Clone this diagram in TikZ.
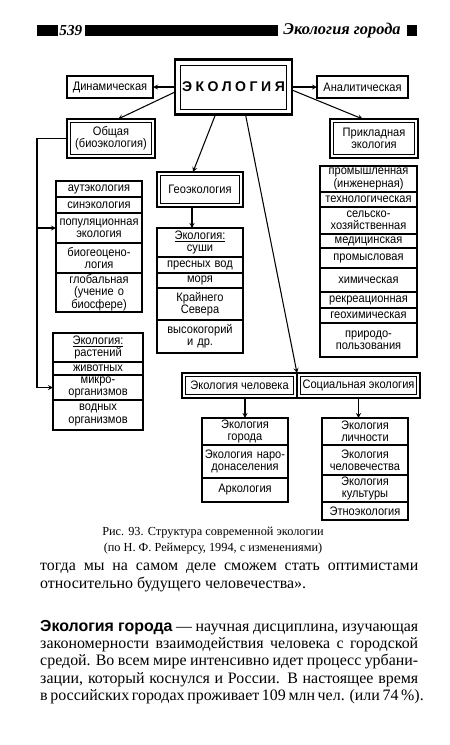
\documentclass[tikz,border=0pt]{standalone}
\usepackage{fontspec}
\setmainfont{Liberation Serif}
\newfontfamily\dsf[FakeStretch=0.9]{Liberation Sans}
\newfontfamily\headsf{Liberation Sans}
\newfontfamily\ecofont[LetterSpace=25]{Liberation Sans}
\usetikzlibrary{positioning}
\newcommand{\boxfont}{\dsf\fontsize{10.5}{10.5}\selectfont}
\newcommand{\bodyfont}{\fontsize{13.6}{15}\selectfont}
\tikzset{
  plainbox/.style={draw, line width=1.3pt, inner sep=1pt, outer sep=0pt, align=center, font=\boxfont},
  thickbox/.style={plainbox, line width=2.2pt},
  lstrow/.style={draw, line width=1pt, inner sep=0pt, outer sep=0pt, align=center, text width=#1, font=\boxfont},
  arr/.style={line width=0.9pt, -stealth},
  bodyline/.style={anchor=west, inner sep=0pt, font=\bodyfont},
}
\begin{document}
\begin{tikzpicture}[x=0.03cm, y=-0.03cm]
\useasboundingbox (0,0) rectangle (450,745);
% header
\fill (37,25) rectangle (58,36);
\node[anchor=west, inner sep=1pt, font=\fontsize{13}{13}\selectfont\bfseries\itshape] (page) at (58,30.5) {539};
\fill (85,25) rectangle (278,36);
\node[anchor=west, inner sep=1pt, font=\fontsize{14}{14}\selectfont\bfseries\itshape] (chapter) at (282,30.5) {Экология города};
\fill (407,25) rectangle (417,36);

% top level
\node[thickbox, minimum width=3.51cm, minimum height=1.65cm, font=\ecofont\bfseries\fontsize{12}{12}\selectfont] (eco) at (233.5,87) {ЭКОЛОГИЯ};
\node[plainbox, minimum width=2.58cm, minimum height=0.66cm] (dyn) at (110,87) {Динамическая};
\node[plainbox, minimum width=2.73cm, minimum height=0.66cm] (ana) at (362.5,87) {Аналитическая};
\node[thickbox, minimum width=2.64cm, minimum height=1.17cm] (gen) at (111,138.5) {Общая\\(биоэкология)};
\node[thickbox, minimum width=2.64cm, minimum height=1.17cm] (appl) at (374,138.5) {Прикладная\\экология};
\node[thickbox, minimum width=2.58cm, minimum height=1.05cm] (geo) at (200,189.5) {Геоэкология};
\node[thickbox, minimum width=3.45cm, minimum height=0.75cm] (hum) at (239.5,385.5) {Экология человека};
\node[thickbox, minimum width=3.69cm, minimum height=0.75cm] (soc) at (358.5,385.5) {Социальная экология};
\draw[line width=0.8pt] ([shift={(5.5,5.5)}]eco.north west) rectangle ([shift={(-5.5,-5.5)}]eco.south east);
\foreach \nd in {gen,appl,geo,hum,soc}
  \draw[line width=0.7pt] ([shift={(3.5,3.5)}]\nd.north west) rectangle ([shift={(-3.5,-3.5)}]\nd.south east);

% general ecology
\node[lstrow=2.58cm, minimum height=0.48cm, anchor=north] (a1) at (99,181) {аутэкология};
\node[lstrow=2.58cm, minimum height=0.48cm, below=0pt of a1] (a2) {синэкология};
\node[lstrow=2.58cm, minimum height=0.9cm, below=0pt of a2] (a3) {популяционная\\экология};
\node[lstrow=2.58cm, minimum height=0.9cm, below=0pt of a3] (a4) {биогеоцено-\\логия};
\node[lstrow=2.58cm, minimum height=1.17cm, below=0pt of a4] (a5) {глобальная\\(учение о\\биосфере)};

\node[lstrow=2.7cm, minimum height=0.87cm, anchor=north] (b1) at (98,333) {\underline{Экология:}\\растений};
\node[lstrow=2.7cm, minimum height=0.39cm, below=0pt of b1] (b2) {животных};
\node[lstrow=2.7cm, minimum height=0.75cm, below=0pt of b2] (b3) {микро-\\организмов};
\node[lstrow=2.7cm, minimum height=0.9cm, below=0pt of b3] (b4) {водных\\организмов};

% geoecology
\node[lstrow=2.58cm, minimum height=0.87cm, anchor=north] (c1) at (200,228) {\underline{Экология:}\\суши};
\node[lstrow=2.58cm, minimum height=0.48cm, below=0pt of c1] (c2) {пресных вод};
\node[lstrow=2.58cm, minimum height=0.45cm, below=0pt of c2] (c3) {моря};
\node[lstrow=2.58cm, minimum height=0.96cm, below=0pt of c3] (c4) {Крайнего\\Севера};
\node[lstrow=2.58cm, minimum height=0.99cm, below=0pt of c4] (c5) {высокогорий\\и др.};

% applied ecology
\node[lstrow=2.91cm, minimum height=0.78cm, anchor=north] (d1) at (368.5,166) {промышленная\\(инженерная)};
\node[lstrow=2.91cm, minimum height=0.45cm, below=0pt of d1] (d2) {технологическая};
\node[lstrow=2.91cm, minimum height=0.81cm, below=0pt of d2] (d3) {сельско-\\хозяйственная};
\node[lstrow=2.91cm, minimum height=0.42cm, below=0pt of d3] (d4) {медицинская};
\node[lstrow=2.91cm, minimum height=0.6cm, below=0pt of d4] (d5) {промысловая};
\node[lstrow=2.91cm, minimum height=0.72cm, below=0pt of d5] (d6) {химическая};
\node[lstrow=2.91cm, minimum height=0.48cm, below=0pt of d6] (d7) {рекреационная};
\node[lstrow=2.91cm, minimum height=0.45cm, below=0pt of d7] (d8) {геохимическая};
\node[lstrow=2.91cm, minimum height=1.02cm, below=0pt of d8] (d9) {природо-\\пользования};

% human and social ecology
\node[lstrow=2.58cm, minimum height=0.81cm, anchor=north] (e1) at (245,418) {Экология\\города};
\node[lstrow=2.58cm, minimum height=0.99cm, below=0pt of e1] (e2) {Экология наро-\\донаселения};
\node[lstrow=2.58cm, minimum height=0.72cm, below=0pt of e2] (e3) {Аркология};

\node[lstrow=2.58cm, minimum height=0.81cm, anchor=north] (f1) at (365,418) {Экология\\личности};
\node[lstrow=2.58cm, minimum height=0.9cm, below=0pt of f1] (f2) {Экология\\человечества};
\node[lstrow=2.58cm, minimum height=0.81cm, below=0pt of f2] (f3) {Экология\\культуры};
\node[lstrow=2.58cm, minimum height=0.54cm, below=0pt of f3] (f4) {Этноэкология};

% connectors
\draw[arr] (eco.west) -- (dyn.east);
\draw[arr] (eco.east) -- (ana.west);
\draw[arr] ([shift={(0,5)}]eco.west) -- (gen.70);
\draw[arr] ([shift={(0,3)}]eco.east) -- (appl.120);
\draw[arr] ([shift={(-18,0)}]eco.south) -- ([shift={(-7,0)}]geo.north);
\draw[arr] ([shift={(12,0)}]eco.south) -- (hum.north east);
\coordinate (spine) at (37,138.5);
\draw[arr] (gen.west) -- (spine) |- (b3.west);
\draw[arr] (spine |- a3.west) -- (a3.west);
\draw[arr] ([shift={(-8,0)}]geo.south) -- ([shift={(-8,0)}]c1.north);
\draw[arr] (hum.south -| e1.north) -- (e1.north);
\draw[arr] (soc.south) -- (soc.south |- f1.north);

% caption and text
\node[font=\fontsize{10.5}{12}\selectfont] (cap1) at (213,533) {Рис. 93. Структура современной экологии};
\node[font=\fontsize{10.5}{12}\selectfont] (cap2) at (213,549) {(по Н. Ф. Реймерсу, 1994, с изменениями)};
\node[bodyline] (t1) at (40,568) {\makebox[11.34cm][s]{тогда мы на самом деле сможем стать оптимистами}};
\node[bodyline] (t2) at (40,585) {относительно будущего человечества».};
\node[bodyline] (p1) at (40,628) {\makebox[11.34cm][s]{{\headsf\bfseries Экология города} — научная дисциплина, изучающая}};
\node[bodyline] (p2) at (40,645) {\makebox[11.34cm][s]{закономерности взаимодействия человека с городской}};
\node[bodyline] (p3) at (40,662) {\makebox[11.34cm][s]{средой. Во всем мире интенсивно идет процесс урбани-}};
\node[bodyline] (p4) at (40,680) {\makebox[11.34cm][s]{зации, который коснулся и России. В настоящее время}};
\node[bodyline] (p5) at (40,697) {\makebox[11.34cm][s]{в российских городах проживает 109 млн чел. (или 74\,\%).}};
\end{tikzpicture}
\end{document}
